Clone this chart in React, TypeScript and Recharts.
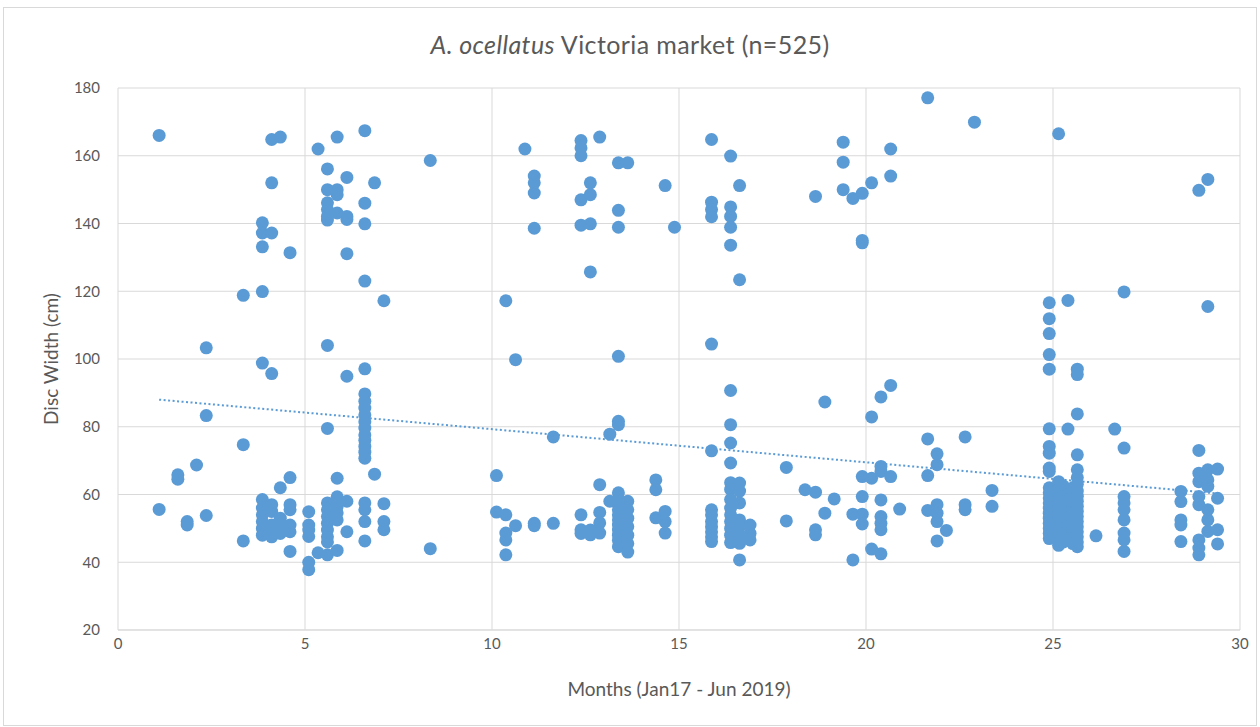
import React from 'react'
import {
  ScatterChart, Scatter, XAxis, YAxis, CartesianGrid, ReferenceLine,
} from 'recharts'

// sampling months (x) and the disc widths recorded at each one (y)
const MONTHS = [
  1.1, 1.6, 1.85, 2.1, 2.36, 3.35, 3.86, 4.11, 4.34, 4.6,
  5.1, 5.35, 5.6, 5.86, 6.12, 6.6, 6.86, 7.11, 8.35,
  10.12, 10.37, 10.63, 10.88, 11.13, 11.64, 12.38, 12.63, 12.88, 13.15, 13.38, 13.63,
  14.38, 14.63, 14.88, 15.87, 16.38, 16.62, 16.9, 17.87, 18.37, 18.65, 18.9, 19.15,
  19.39, 19.65, 19.9, 20.15, 20.4, 20.66, 20.9, 21.65, 21.9, 22.15, 22.65, 22.9, 23.37,
  24.9, 25.15, 25.28, 25.4, 25.53, 25.65, 26.15, 26.65, 26.9, 28.42, 28.9, 29.14, 29.4,
]

const DISC_WIDTHS = [
  [166, 55.6],
  [65.8, 64.5],
  [52, 51],
  [68.7],
  [103.3, 83.3, 53.8],
  [118.8, 74.7, 46.3],
  [140.2, 137.2, 133.1, 119.9, 98.8, 58.5, 56, 54, 52, 50, 48],
  [164.8, 152, 137.2, 95.7, 57, 55, 51, 49, 47.5],
  [165.5, 62, 53, 50, 48.5],
  [131.4, 65, 57, 55.5, 51, 49, 43.2],
  [54.9, 51, 49.5, 47.6, 40, 37.8],
  [162, 42.8],
  [156.1, 150, 146.1, 144.1, 142.1, 141, 104, 79.5, 57.5, 55.5, 53.5, 51.5, 49.5, 47.5, 46, 42.2],
  [165.5, 150, 148.5, 143.1, 64.8, 59.3, 56.5, 54.6, 52.5, 43.5],
  [153.6, 142.1, 141.2, 131.1, 94.9, 58, 49],
  [167.4, 146, 139.9, 123, 97.1, 89.7, 87.5, 85.5, 83.5, 81.5, 79.6, 77.6, 76, 74.2, 72.5, 70.7, 57.5, 55.5, 52, 46.3],
  [152, 66],
  [117.2, 57.3, 52, 49.6],
  [158.6, 44],
  [65.6, 54.8],
  [117.2, 54, 48.6, 46.6, 42.2],
  [99.8, 50.8],
  [162],
  [154, 152, 149, 138.6, 51.5, 50.8],
  [77, 51.5],
  [164.5, 162.3, 160, 147, 139.5, 54, 49.6, 48.5],
  [152, 148.5, 139.9, 125.7, 49.5, 48.1],
  [165.5, 62.9, 54.7, 51.6, 48.6],
  [77.8, 58],
  [157.9, 143.9, 138.9, 100.8, 81.6, 80.6, 60.5, 58.5, 57, 55.5, 54, 52.5, 51, 49.5, 48, 46.5, 44.6],
  [157.9, 58, 55.5, 53, 50.5, 48, 45.5, 43],
  [64.3, 61.4, 53.1],
  [151.2, 55, 52, 48.6],
  [138.9],
  [164.8, 146.3, 144.1, 142, 104.4, 72.9, 55.5, 54, 52, 50.5, 49, 47.5, 46.1],
  [159.9, 144.9, 142.1, 138.9, 133.6, 90.7, 80.6, 75.2, 69.3, 63.5, 61.5, 58.5, 56, 54, 52, 50, 48, 45.8],
  [151.2, 123.4, 63.4, 61, 57.5, 52.5, 50.5, 48, 45.6, 40.7],
  [51, 48.5, 46.6],
  [68, 52.2],
  [61.4],
  [148, 60.7, 49.6, 48.1],
  [87.3, 54.5],
  [58.7],
  [164, 158.1, 150],
  [147.4, 54.2, 40.7],
  [148.9, 135, 134.3, 65.3, 59.4, 54.2, 51.3],
  [152, 82.9, 64.8, 43.9],
  [88.8, 68.3, 66.8, 58.4, 53.5, 51.5, 49.6, 42.5],
  [162, 154, 92.2, 65.3],
  [55.7],
  [177.1, 76.4, 65.6, 55.3],
  [72, 68.8, 57, 54.5, 52, 46.3],
  [49.4],
  [77, 57, 55.5],
  [169.9],
  [61.2, 56.5],
  [116.6, 111.9, 107.5, 101.3, 97, 79.4, 74.2, 72.2, 67.8, 66.8, 62, 60.5, 59, 57.5, 56, 54.5, 53, 51.5, 50, 48.5, 47],
  [166.5, 63.8, 61.5, 60, 58.5, 57, 55.5, 54, 52.5, 51, 49.5, 48, 46.5, 45],
  [62.5, 61, 59.5, 58, 56.5, 55, 53.5, 52, 50.5, 49, 47.5, 46],
  [117.3, 79.3, 61.5, 60, 58.5, 57, 55.5, 54, 52.5, 51, 49.5, 48, 46.5],
  [62, 60.5, 59, 57.5, 56, 54.5, 53, 51.5, 50, 48.5, 47, 45.5],
  [97, 95.4, 83.8, 71.7, 67.3, 65, 63, 61, 59.5, 58, 56.5, 55, 53.5, 52, 50.5, 49, 47.5, 46, 44.6],
  [47.8],
  [79.3],
  [119.8, 73.7, 59.4, 57.5, 55.5, 52.5, 48.6, 46.6, 43.2],
  [60.9, 57.9, 52.5, 51, 46.1],
  [149.8, 73, 66.3, 63.8, 59.4, 57, 46.6, 44.2, 42.2],
  [153, 115.5, 67.3, 64.3, 62.4, 55.5, 52.5, 49.1],
  [67.5, 58.9, 49.6, 45.4],
]

// linear trendline end points (Excel style, spans the data range)
const TREND_START = { x: 1.1, y: 88.0 }
const TREND_END = { x: 29.4, y: 60.3 }

const X_TICKS = [0, 5, 10, 15, 20, 25, 30]
const Y_TICKS = [20, 40, 60, 80, 100, 120, 140, 160, 180]

const BLUE = '#5B9BD5'
const TEXT = '#595959'
const GRID = '#d9d9d9'
const FONT = 'Lato, "Open Sans", sans-serif'

const points = MONTHS.flatMap((m, i) => DISC_WIDTHS[i].map((w) => ({ month: m, width: w })))

const Dot = (props: any) => <circle cx={props.cx} cy={props.cy} r={6.5} fill={BLUE} />

export default function App() {
  return (
    <div style={{ position: 'absolute', left: 0, top: 0, width: 1260, height: 727, background: '#fff', fontFamily: FONT }}>
      <div style={{ position: 'absolute', left: 3, top: 7, width: 1252, height: 717, border: `1px solid ${GRID}` }} />

      <div style={{ position: 'absolute', left: 0, top: 29, width: 1260, textAlign: 'center', fontSize: 25, letterSpacing: 0.4, color: TEXT }}>
        <i>A. ocellatus</i> Victoria market (n=525)
      </div>

      <ScatterChart width={1260} height={727} margin={{ top: 88, right: 20, bottom: 67, left: 58 }}>
        <CartesianGrid stroke={GRID} />
        <XAxis
          type="number" dataKey="month" domain={[0, 30]} ticks={X_TICKS}
          stroke={GRID} tickLine={false} height={30}
          tick={{ fill: TEXT, fontSize: 15, fontFamily: FONT }}
        />
        <YAxis
          type="number" dataKey="width" domain={[20, 180]} ticks={Y_TICKS}
          axisLine={false} tickLine={false} width={60} tickMargin={12}
          tick={{ fill: TEXT, fontSize: 15, fontFamily: FONT }}
        />
        <Scatter data={points} fill={BLUE} shape={Dot} isAnimationActive={false} />
        <ReferenceLine
          segment={[TREND_START, TREND_END]}
          stroke={BLUE} strokeWidth={2} strokeDasharray="2 2.5"
        />
      </ScatterChart>

      <div style={{ position: 'absolute', left: 118, top: 677, width: 1122, textAlign: 'center', fontSize: 19, color: TEXT }}>
        Months (Jan17 - Jun 2019)
      </div>
      <div
        style={{
          position: 'absolute', left: 50, top: 359, width: 300, textAlign: 'center', fontSize: 19, color: TEXT,
          transform: 'translate(-50%, -50%) rotate(-90deg)',
        }}
      >
        Disc Width (cm)
      </div>
    </div>
  )
}
